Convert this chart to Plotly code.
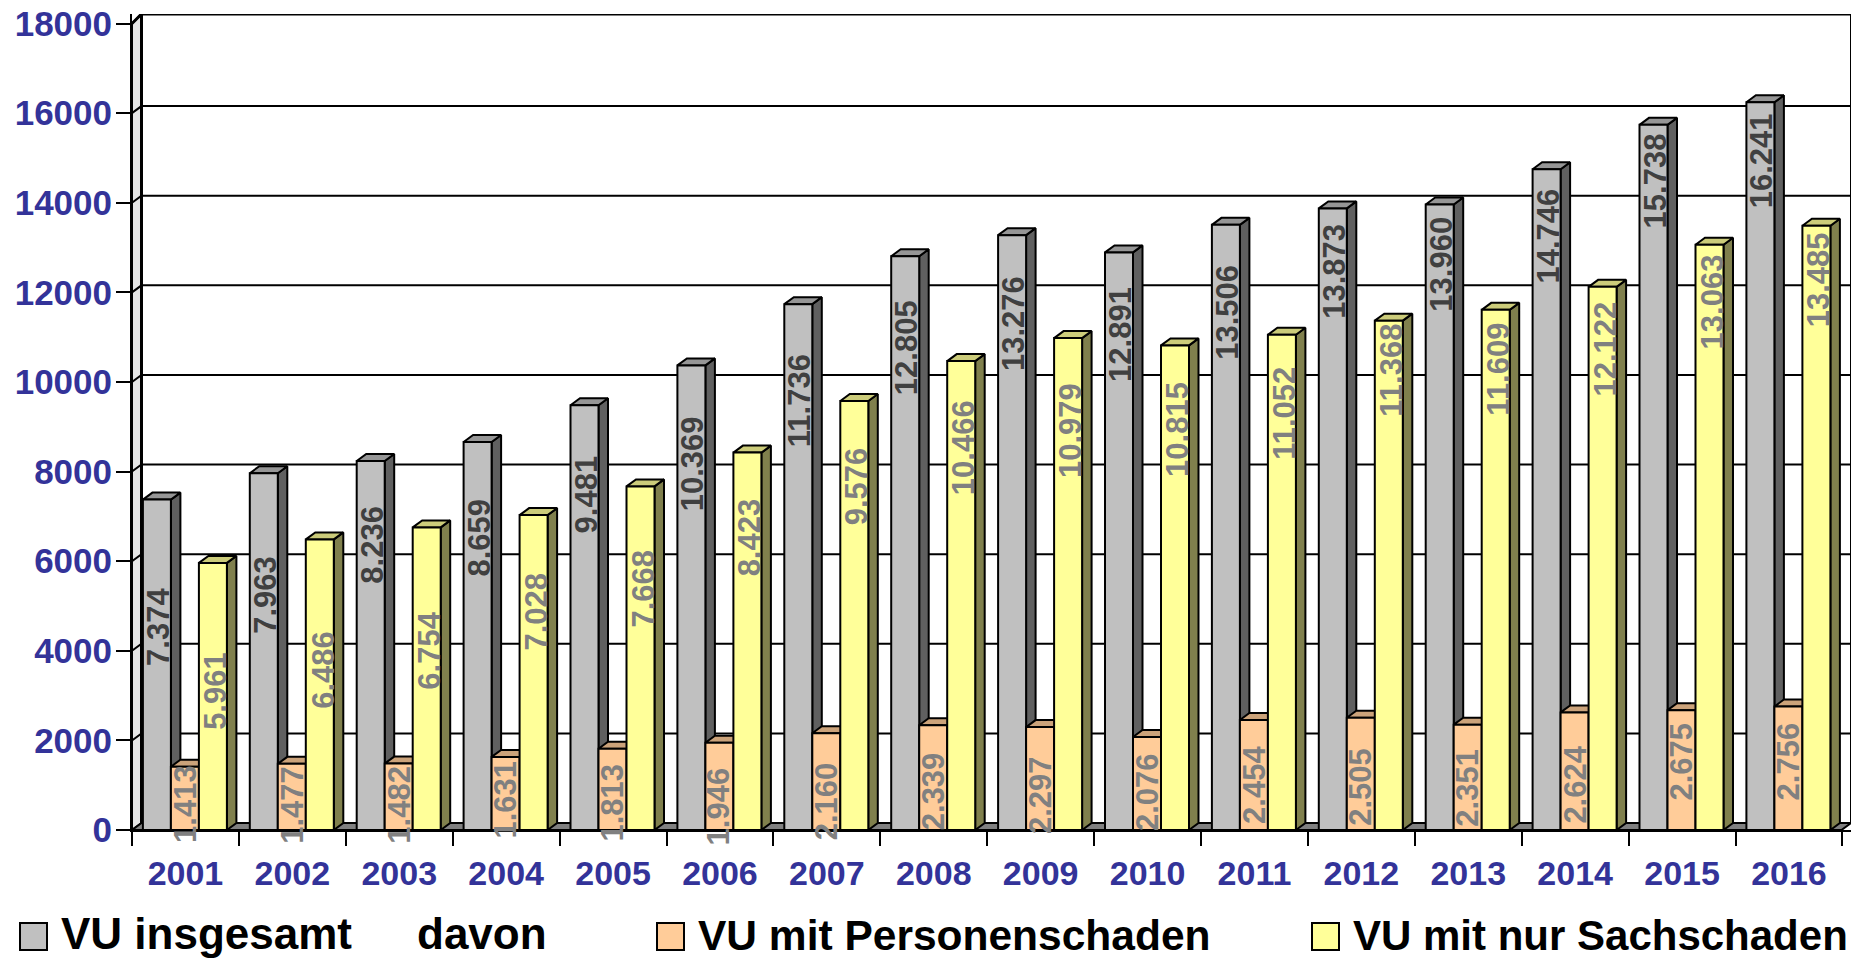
import plotly.graph_objects as go

years = [str(y) for y in range(2001, 2017)]
total = [7374, 7963, 8236, 8659, 9481, 10369, 11736, 12805, 13276, 12891, 13506, 13873, 13960, 14746, 15738, 16241]
injury = [1413, 1477, 1482, 1631, 1813, 1946, 2160, 2339, 2297, 2076, 2454, 2505, 2351, 2624, 2675, 2756]
damage = [5961, 6486, 6754, 7028, 7668, 8423, 9576, 10466, 10979, 10815, 11052, 11368, 11609, 12122, 13063, 13485]

# Where each rotated value label sits along the value axis
total_label_at = [4531, 5246, 6362, 6518, 7478, 8170, 9576, 10759, 11295, 11049, 11563, 12478, 12634, 13259, 14487, 14933]
injury_label_at = [580, 558, 558, 670, 603, 536, 647, 870, 781, 848, 1004, 960, 938, 1004, 1518, 1540]
damage_label_at = [3103, 3571, 3996, 4866, 5379, 6540, 7679, 8527, 8906, 8929, 9308, 10268, 10290, 10737, 11786, 12277]

y_ticks = list(range(0, 18001, 2000))

# Canvas geometry
W, H = 1867, 959
L, R, T, B = 132, 1851, 14, 830
CAT_PX = 106.9
PX_PER_UNIT = 806.5 / 18000
X_MIN = -0.5
X_MAX = X_MIN + (R - L) / CAT_PX
Y_MAX = (B - T) / PX_PER_UNIT
DX = 9.5 / CAT_PX
DY = 7 / PX_PER_UNIT
BAR_W = 28 / CAT_PX
OFFS = [-0.398, -0.398 + BAR_W, -0.398 + 2 * BAR_W]
WALL_TOP = Y_MAX

FONT = "Liberation Sans, Arial, sans-serif"
BLUE = "#333399"
STYLES = {
    "total": dict(front="#C0C0C0", side="#606060", top="#969696"),
    "injury": dict(front="#FFCC99", side="#99795C", top="#CCA37A"),
    "damage": dict(front="#FFFF99", side="#80804D", top="#CCCC7A"),
}


def poly_trace(xs, ys, color, width=2):
    return go.Scatter(x=xs, y=ys, mode="lines", fill="toself", fillcolor=color,
                      line=dict(color="black", width=width), hoverinfo="skip",
                      showlegend=False, cliponaxis=False, xaxis="x", yaxis="y")


def line_trace(xs, ys, width=2):
    return go.Scatter(x=xs, y=ys, mode="lines", line=dict(color="black", width=width),
                      hoverinfo="skip", showlegend=False, cliponaxis=False, xaxis="x", yaxis="y")


def faces(values, off):
    sx, sy, tx, ty = [], [], [], []
    for i, v in enumerate(values):
        a = i + off
        b = a + BAR_W
        sx += [b, b + DX, b + DX, b, b, None]
        sy += [0, DY, v + DY, v, 0, None]
        tx += [a, a + DX, b + DX, b, a, None]
        ty += [v, v + DY, v + DY, v, v, None]
    return sx, sy, tx, ty


fig = go.Figure()

# Left wall and floor
fig.add_trace(poly_trace([X_MIN, X_MIN + DX, X_MIN + DX, X_MIN, X_MIN],
                         [0, DY, WALL_TOP, 18000, 0], "#E6E6E6", 2))
fig.add_trace(poly_trace([X_MIN, X_MIN + DX, X_MAX, X_MAX - DX, X_MIN],
                         [0, DY, DY, 0, 0], "#808080", 2))

# Grid lines on the back wall, with the connector to each tick
for v in y_ticks[1:-1]:
    fig.add_trace(line_trace([X_MIN, X_MIN + DX, X_MAX], [v, v + DY, v + DY]))
fig.add_trace(line_trace([X_MIN, X_MIN + DX, X_MAX], [18000, WALL_TOP, WALL_TOP], 3))
fig.add_trace(line_trace([X_MIN + DX, X_MIN + DX], [DY, WALL_TOP], 3))
fig.add_trace(line_trace([X_MAX, X_MAX], [DY, WALL_TOP], 2))

# Depth faces, behind all the front faces
for values, off, st in zip((total, injury, damage), OFFS, (STYLES["total"], STYLES["injury"], STYLES["damage"])):
    sx, sy, tx, ty = faces(values, off)
    fig.add_trace(poly_trace(sx, sy, st["side"]))
    fig.add_trace(poly_trace(tx, ty, st["top"]))

# Front faces
for name, values, off, st in zip(("VU insgesamt", "VU mit Personenschaden", "VU mit nur Sachschaden"),
                                 (total, injury, damage), OFFS,
                                 (STYLES["total"], STYLES["injury"], STYLES["damage"])):
    fig.add_trace(go.Bar(x=years, y=values, name=name, width=BAR_W, offset=off,
                         marker=dict(color=st["front"], line=dict(color="black", width=2)),
                         xaxis="x2", yaxis="y2", showlegend=False))


def de(v):
    return f"{v:,}".replace(",", ".")


annotations = []
for values, where, off, color, shift in (
    (total, total_label_at, OFFS[0], "#404040", 2),
    (injury, injury_label_at, OFFS[1], "#808080", 0),
    (damage, damage_label_at, OFFS[2], "#808080", 3),
):
    for i, (v, at) in enumerate(zip(values, where)):
        annotations.append(dict(text=de(v), x=i + off + BAR_W / 2, y=at, xref="x", yref="y",
                                textangle=-90, showarrow=False, xanchor="center", yanchor="middle",
                                xshift=shift, font=dict(family=FONT, size=31, color=color, weight="bold")))


def px(x):
    return (x - L) / (R - L)


def py(y):
    return (B - y) / (B - T)


shapes = []
legend_items = [
    (20, 59, "VU insgesamt", "#C0C0C0", 44, 933),
    (657, 696, "VU mit Personenschaden", "#FFCC99", 42.5, 935),
    (1312, 1351, "VU mit nur Sachschaden", "#FFFF99", 42, 935),
]
for sw, tx, label, color, size, ty in legend_items:
    shapes.append(dict(type="rect", xref="paper", yref="paper", x0=px(sw), x1=px(sw + 27),
                       y0=py(950), y1=py(923), fillcolor=color, line=dict(color="black", width=2)))
    annotations.append(dict(text=label, xref="paper", yref="paper", x=px(tx), y=py(ty),
                            xanchor="left", yanchor="middle", showarrow=False,
                            font=dict(family=FONT, size=size, color="black", weight="bold")))
annotations.append(dict(text="davon", xref="paper", yref="paper", x=px(415), y=py(933),
                        xanchor="left", yanchor="middle", showarrow=False,
                        font=dict(family=FONT, size=44, color="black", weight="bold")))

fig.update_layout(
    width=W, height=H, autosize=False, showlegend=False, barmode="overlay",
    margin=dict(l=L, r=W - R, t=T, b=H - B, pad=0),
    paper_bgcolor="white", plot_bgcolor="white",
    annotations=annotations, shapes=shapes,
    xaxis=dict(range=[X_MIN, X_MAX], visible=False, fixedrange=True, automargin=False),
    yaxis=dict(range=[0, Y_MAX], tickmode="array", tickvals=y_ticks, ticktext=[str(v) for v in y_ticks],
               ticks="outside", ticklen=14, tickwidth=2, tickcolor="black", showline=True,
               linecolor="black", linewidth=2, showgrid=False, zeroline=False, ticklabelstandoff=-3,
               automargin=False,
               tickfont=dict(family=FONT, size=35, color=BLUE, weight="bold")),
    xaxis2=dict(type="category", categoryorder="array", categoryarray=years, range=[X_MIN, X_MAX],
                overlaying="x", anchor="y2", side="bottom", tickson="boundaries", ticks="outside",
                ticklen=14, tickwidth=2, tickcolor="black", showline=True, linecolor="black",
                linewidth=2, showgrid=False, zeroline=False, tickangle=0, ticklabelstandoff=12,
                automargin=False,
                tickfont=dict(family=FONT, size=34, color=BLUE, weight="bold")),
    yaxis2=dict(range=[0, Y_MAX], overlaying="y", visible=False, automargin=False),
)

fig.write_html("out.html", config=dict(displayModeBar=False),
               post_script="document.body.style.margin='0';document.body.style.overflow='hidden';")
